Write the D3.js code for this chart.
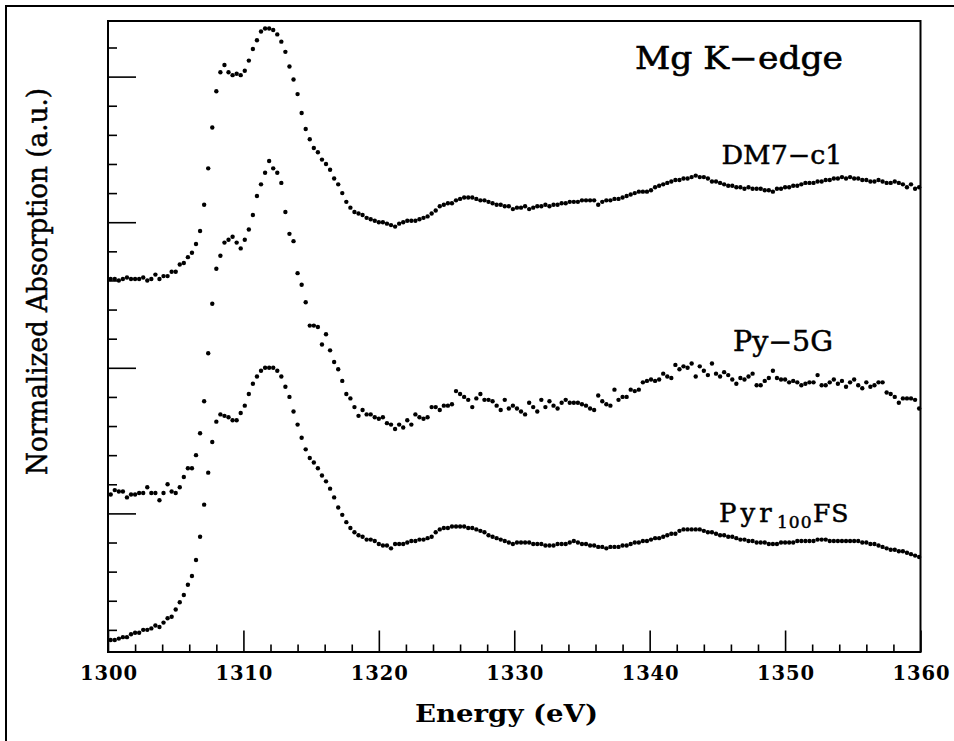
<!DOCTYPE html>
<html>
<head>
<meta charset="utf-8">
<script src="https://cdn.jsdelivr.net/npm/d3@7"></script>
<style>
  html, body { margin: 0; padding: 0; background: #fff; }
  svg { display: block; }
</style>
</head>
<body>
<svg id="chart" width="954" height="741"></svg>
<script>
// ---------------- DATA ----------------
const energy = [
1300.2,1300.5,1300.8,1301.1,1301.4,1301.7,1302.0,1302.3,1302.6,1302.9,
1303.2,1303.5,1303.8,1304.1,1304.4,1304.7,1305.0,1305.3,1305.6,1305.9,
1306.2,1306.5,1306.8,1307.1,1307.4,1307.7,1308.0,1308.3,1308.6,1308.9,
1309.2,1309.5,1309.8,1310.1,1310.4,1310.7,1311.0,1311.3,1311.6,1311.9,
1312.2,1312.5,1312.8,1313.1,1313.4,1313.7,1314.0,1314.3,1314.6,1314.9,
1315.2,1315.5,1315.8,1316.1,1316.4,1316.7,1317.0,1317.3,1317.6,1317.9,
1318.2,1318.5,1318.8,1319.1,1319.4,1319.7,1320.0,1320.3,1320.6,1320.9,
1321.2,1321.5,1321.8,1322.1,1322.4,1322.7,1323.0,1323.3,1323.6,1323.9,
1324.2,1324.5,1324.8,1325.1,1325.4,1325.7,1326.0,1326.3,1326.6,1326.9,
1327.2,1327.5,1327.8,1328.1,1328.4,1328.7,1329.0,1329.3,1329.6,1329.9,
1330.2,1330.5,1330.8,1331.1,1331.4,1331.7,1332.0,1332.3,1332.6,1332.9,
1333.2,1333.5,1333.8,1334.1,1334.4,1334.7,1335.0,1335.3,1335.6,1335.9,
1336.2,1336.5,1336.8,1337.1,1337.4,1337.7,1338.0,1338.3,1338.6,1338.9,
1339.2,1339.5,1339.8,1340.1,1340.4,1340.7,1341.0,1341.3,1341.6,1341.9,
1342.2,1342.5,1342.8,1343.1,1343.4,1343.7,1344.0,1344.3,1344.6,1344.9,
1345.2,1345.5,1345.8,1346.1,1346.4,1346.7,1347.0,1347.3,1347.6,1347.9,
1348.2,1348.5,1348.8,1349.1,1349.4,1349.7,1350.0,1350.3,1350.6,1350.9,
1351.2,1351.5,1351.8,1352.1,1352.4,1352.7,1353.0,1353.3,1353.6,1353.9,
1354.2,1354.5,1354.8,1355.1,1355.4,1355.7,1356.0,1356.3,1356.6,1356.9,
1357.2,1357.5,1357.8,1358.1,1358.4,1358.7,1359.0,1359.3,1359.6,1359.9
];

// Normalized absorption (a.u., curves offset vertically as in the figure)
const dm7c1 = [
261,261,260,261,262,261,261,261,262,260,
261,264,261,263,263,266,266,271,272,276,
279,285,294,312,337,365,390,403,408,403,
401,402,401,404,411,419,425,431,433,433,
432,429,424,417,407,398,388,375,364,357,
351,348,343,340,336,330,326,320,314,310,
307,306,305,303,302,301,300,300,299,298,
297,299,300,301,301,301,302,303,304,306,
308,311,312,313,313,315,316,317,317,317,
316,315,315,314,313,312,312,311,311,309,
310,310,311,309,310,311,311,312,311,312,
312,313,313,314,314,314,315,315,315,315,
312,314,315,315,316,316,317,318,319,320,
321,321,321,322,324,325,326,327,328,329,
329,330,330,331,332,331,331,330,328,328,
327,326,325,325,324,324,323,324,323,323,
323,322,322,321,323,323,324,324,325,325,
326,327,327,327,328,328,329,329,330,330,
331,330,331,330,330,329,329,328,328,329,
328,327,327,328,327,326,324,326,323,324
];

const py5g = [
113,116,115,115,111,113,113,114,114,118,
114,114,109,114,120,115,114,118,125,131,
131,140,155,177,210,244,268,277,286,288,
290,286,282,288,295,305,318,326,334,342,
337,334,327,307,292,287,265,257,245,229,
229,228,216,223,212,204,199,191,182,179,
173,167,171,168,168,166,165,166,162,161,
158,161,159,164,161,168,166,165,166,173,
173,171,174,174,175,184,182,180,178,173,
179,182,178,178,177,174,171,178,172,174,
172,170,168,176,173,170,178,173,177,174,
172,176,178,176,176,176,175,174,172,171,
181,177,175,174,185,178,180,180,185,184,
185,190,191,192,191,192,196,194,193,202,
199,201,200,203,194,201,198,195,203,196,
194,197,195,192,189,193,192,194,196,188,
188,191,193,198,193,192,192,190,191,190,
188,189,190,190,195,188,188,190,192,189,
191,187,190,192,188,186,190,187,188,190,
190,183,182,180,176,179,179,179,178,172
];

const pyr100fs = [
13,13,14,15,15,17,18,18,20,20,
21,23,22,25,28,29,34,39,44,51,
57,68,84,106,128,149,163,168,167,166,
164,164,169,174,182,189,194,198,200,200,
200,198,194,187,180,170,161,152,144,138,
135,131,126,122,117,111,104,99,94,90,
87,85,84,82,82,81,79,78,78,76,
79,79,79,80,81,81,82,82,83,84,
87,89,90,90,91,91,91,91,90,90,
89,88,87,85,84,83,82,81,80,79,
80,80,80,80,79,79,79,78,78,78,
79,79,79,80,81,80,79,79,78,78,
77,77,76,77,77,77,78,78,79,80,
80,81,81,82,83,83,84,85,86,86,
88,89,89,89,89,89,88,87,87,86,
85,85,84,84,83,82,82,81,81,80,
80,80,79,79,79,80,80,80,80,81,
81,81,81,81,82,82,82,81,81,81,
81,81,81,81,81,80,80,79,79,78,
77,76,75,75,74,74,73,72,71,70
];

const xMajorTicks = [1300,1310,1320,1330,1340,1350,1360];
const xTickLabels = ["1300","1310","1320","1330","1340","1350","1360"];
const xMinorTicks = [1302,1304,1306,1308,1312,1314,1316,1318,1322,1324,1326,1328,
                     1332,1334,1336,1338,1342,1344,1346,1348,1352,1354,1356,1358];
const yMajorTicks = [100,200,300,400];
const yMinorTicks = [20,40,60,80,120,140,160,180,220,240,260,280,320,340,360,380,420];
const xDomain = [1300,1360];
const yDomain = [4.8,438.2];

const title = "Mg K\u2212edge";
const xTitle = "Energy (eV)";
const yTitle = "Normalized Absorption (a.u.)";
const seriesNames = ["DM7\u2212c1","Py\u22125G","Pyr100FS"];

// ---------------- CHART ----------------
const svg = d3.select("#chart");
const L = 108, R = 920.5, T = 21, B = 652;
const x = d3.scaleLinear().domain(xDomain).range([L, R]);
const y = d3.scaleLinear().domain(yDomain).range([B, T]);
const serif = "'DejaVu Serif', 'Liberation Serif', serif";

svg.append("rect").attr("width",954).attr("height",741).attr("fill","#fff");

// outer frame (top and left edges visible)
svg.append("path")
  .attr("d", d3.line()([[6,741],[6,6],[954,6]]))
  .attr("fill","none").attr("stroke","#000").attr("stroke-width",2);

// x axis: major ticks + labels
const xMaj = svg.append("g").attr("transform",`translate(0,${B})`)
  .call(d3.axisBottom(x).tickValues(xMajorTicks)
        .tickFormat((d,i)=>xTickLabels[i]).tickSizeInner(-21.5).tickSizeOuter(0).tickPadding(0));
xMaj.select(".domain").remove();
xMaj.selectAll(".tick line").attr("stroke","#000").attr("stroke-width",1.6);
xMaj.selectAll(".tick text")
  .attr("y",27.5).attr("dy",null)
  .attr("font-family",serif)
  .attr("font-weight","bold").attr("font-size",19.5).attr("fill","#000")
  .attr("textLength",57).attr("lengthAdjust","spacing");

const xMin = svg.append("g").attr("transform",`translate(0,${B})`)
  .call(d3.axisBottom(x).tickValues(xMinorTicks).tickFormat("").tickSizeInner(-7.5).tickSizeOuter(0));
xMin.select(".domain").remove();
xMin.selectAll(".tick line").attr("stroke","#000").attr("stroke-width",1.6);

// y axis: ticks only
const yMaj = svg.append("g").attr("transform",`translate(${L},0)`)
  .call(d3.axisLeft(y).tickValues(yMajorTicks).tickFormat("").tickSizeInner(-28).tickSizeOuter(0));
yMaj.select(".domain").remove();
yMaj.selectAll(".tick line").attr("stroke","#000").attr("stroke-width",1.6);

const yMin = svg.append("g").attr("transform",`translate(${L},0)`)
  .call(d3.axisLeft(y).tickValues(yMinorTicks).tickFormat("").tickSizeInner(-9).tickSizeOuter(0));
yMin.select(".domain").remove();
yMin.selectAll(".tick line").attr("stroke","#000").attr("stroke-width",1.6);

// plot frame
svg.append("rect").attr("x",L).attr("y",T).attr("width",R-L).attr("height",B-T)
  .attr("fill","none").attr("stroke","#000").attr("stroke-width",2);

// data points
const series = [dm7c1, py5g, pyr100fs];
series.forEach(vals => {
  svg.append("g").selectAll("circle")
    .data(vals.map((v,i)=>[energy[i], v]))
    .join("circle")
    .attr("cx", d=>x(d[0]))
    .attr("cy", d=>y(d[1]))
    .attr("r", 2.2)
    .attr("fill","#000");
});

// texts
svg.append("text").text(title)
  .attr("x",635).attr("y",68.5)
  .attr("font-family",serif).attr("font-size",31)
  .attr("stroke","#000").attr("stroke-width",0.6)
  .attr("textLength",208).attr("lengthAdjust","spacingAndGlyphs").attr("fill","#000");

svg.append("text").text(seriesNames[0])
  .attr("x",721.5).attr("y",163.5)
  .attr("font-family",serif).attr("font-size",26)
  .attr("stroke","#000").attr("stroke-width",0.5)
  .attr("textLength",121).attr("lengthAdjust","spacingAndGlyphs").attr("fill","#000");

svg.append("text").text(seriesNames[1])
  .attr("x",733).attr("y",350.5)
  .attr("font-family",serif).attr("font-size",27)
  .attr("stroke","#000").attr("stroke-width",0.5)
  .attr("textLength",100).attr("lengthAdjust","spacingAndGlyphs").attr("fill","#000");

const pyrT = svg.append("text")
  .attr("font-family",serif).attr("fill","#000")
  .attr("stroke","#000").attr("stroke-width",0.5);
pyrT.append("tspan").text(seriesNames[2].slice(0,3)).attr("x",719).attr("y",521.7)
  .attr("font-size",26).attr("letter-spacing",4);
pyrT.append("tspan").text(seriesNames[2].slice(3,6)).attr("x",777).attr("y",527.5)
  .attr("font-size",17).attr("letter-spacing",1);
pyrT.append("tspan").text(seriesNames[2].slice(6)).attr("x",813).attr("y",521.7)
  .attr("font-size",25).attr("letter-spacing",1);

svg.append("text").text(xTitle)
  .attr("x",415).attr("y",721.7)
  .attr("font-family",serif).attr("font-weight","bold").attr("font-size",24).attr("fill","#000")
  .attr("textLength",183).attr("lengthAdjust","spacingAndGlyphs");

svg.append("text").text(yTitle)
  .attr("transform","translate(46.5,281.5) rotate(-90)")
  .attr("text-anchor","middle")
  .attr("font-family",serif).attr("font-size",27)
  .attr("stroke","#000").attr("stroke-width",0.5)
  .attr("textLength",387).attr("lengthAdjust","spacingAndGlyphs").attr("fill","#000");
</script>
</body>
</html>
